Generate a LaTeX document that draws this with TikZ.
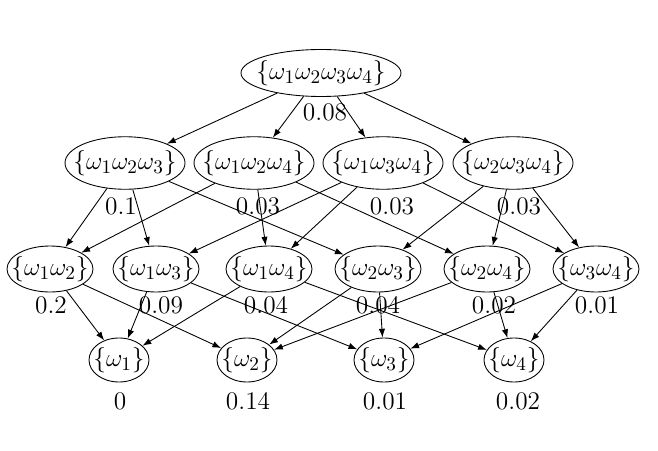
\documentclass[tikz,border=0pt]{standalone}
\usepackage{amsmath}
\usepackage{amssymb}
\usetikzlibrary{shapes.geometric,arrows.meta}

% zero-width label, so the ellipse size is set by the style alone
\newcommand{\setlbl}[1]{\makebox[0pt]{$\{#1\}$}}

\begin{document}
\begin{tikzpicture}[thick, line width=0.5pt,
    font=\fontsize{15.2pt}{18pt}\selectfont,
    >={Latex[length=5pt,width=3.6pt]},
    main/.style={draw,ellipse,inner sep=0pt},
    four/.style={main,minimum width=3.2cm,minimum height=0.94cm},
    three/.style={main,minimum width=2.4cm,minimum height=1.05cm},
    two/.style={main,minimum width=1.72cm,minimum height=0.92cm},
    one/.style={main,minimum width=1.2cm,minimum height=0.88cm},
    val/.style={inner sep=0pt}]
		\useasboundingbox (0,0) rectangle (13.16,9.0);

		\node[four] (1234) at (6.42,7.54) {\setlbl{\omega_1\omega_2\omega_3\omega_4}};

		\node[three] (123) at (2.50,5.74) {\setlbl{\omega_1\omega_2\omega_3}};
		\node[three] (124) at (5.08,5.74) {\setlbl{\omega_1\omega_2\omega_4}};
		\node[three] (134) at (7.66,5.74) {\setlbl{\omega_1\omega_3\omega_4}};
		\node[three] (234) at (10.26,5.74) {\setlbl{\omega_2\omega_3\omega_4}};

		\node[two] (12) at (1.00,3.62) {\setlbl{\omega_1\omega_2}};
		\node[two] (13) at (3.12,3.62) {\setlbl{\omega_1\omega_3}};
		\node[two] (14) at (5.38,3.62) {\setlbl{\omega_1\omega_4}};
		\node[two] (23) at (7.56,3.62) {\setlbl{\omega_2\omega_3}};
		\node[two] (24) at (9.74,3.62) {\setlbl{\omega_2\omega_4}};
		\node[two] (34) at (11.92,3.62) {\setlbl{\omega_3\omega_4}};

		\node[one] (1) at (2.38,1.80) {\setlbl{\omega_1}};
		\node[one] (2) at (4.94,1.80) {\setlbl{\omega_2}};
		\node[one] (3) at (7.68,1.80) {\setlbl{\omega_3}};
		\node[one] (4) at (10.28,1.80) {\setlbl{\omega_4}};

		% values
		\node[val] (p1234) at (6.50,6.76) {$0.08$};
		\node[val] (p123) at (2.42,4.88) {$0.1$};
		\node[val] (p124) at (5.16,4.88) {$0.03$};
		\node[val] (p134) at (7.84,4.88) {$0.03$};
		\node[val] (p234) at (10.38,4.88) {$0.03$};
		\node[val] (p12) at (1.02,2.90) {$0.2$};
		\node[val] (p13) at (3.22,2.90) {$0.09$};
		\node[val] (p14) at (5.32,2.90) {$0.04$};
		\node[val] (p23) at (7.56,2.90) {$0.04$};
		\node[val] (p24) at (9.88,2.90) {$0.02$};
		\node[val] (p34) at (11.94,2.90) {$0.01$};
		\node[val] (p1) at (2.40,0.98) {$0$};
		\node[val] (p2) at (4.96,0.98) {$0.14$};
		\node[val] (p3) at (7.70,0.98) {$0.01$};
		\node[val] (p4) at (10.36,0.98) {$0.02$};

		\draw[->] (1234) -- (123);
		\draw[->] (1234) -- (124);
		\draw[->] (1234) -- (134);
		\draw[->] (1234) -- (234);

		\draw[->] (123) -- (12);
		\draw[->] (123) -- (13);
		\draw[->] (123) -- (23);
		\draw[->] (124) -- (12);
		\draw[->] (124) -- (14);
		\draw[->] (124) -- (24);
		\draw[->] (134) -- (13);
		\draw[->] (134) -- (14);
		\draw[->] (134) -- (34);
		\draw[->] (234) -- (23);
		\draw[->] (234) -- (24);
		\draw[->] (234) -- (34);

		\draw[->] (12) -- (1);
		\draw[->] (12) -- (2);
		\draw[->] (13) -- (1);
		\draw[->] (13) -- (3);
		\draw[->] (14) -- (1);
		\draw[->] (14) -- (4);
		\draw[->] (23) -- (2);
		\draw[->] (23) -- (3);
		\draw[->] (24) -- (2);
		\draw[->] (24) -- (4);
		\draw[->] (34) -- (3);
		\draw[->] (34) -- (4);
	\end{tikzpicture}
\end{document}
